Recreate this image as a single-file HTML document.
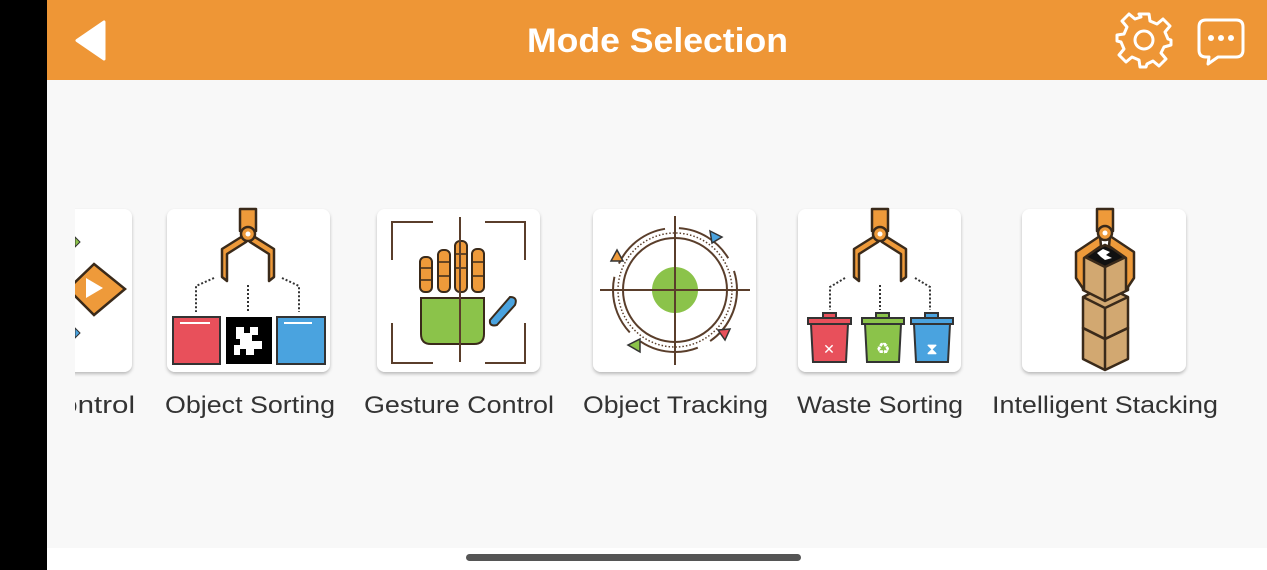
<!DOCTYPE html>
<html><head><meta charset="utf-8"><style>
html,body{margin:0;padding:0;width:1267px;height:570px;overflow:hidden;background:#f8f8f8;font-family:"Liberation Sans","DejaVu Sans",sans-serif}
</style></head><body>
<svg width="1267" height="570" viewBox="0 0 1267 570" xmlns="http://www.w3.org/2000/svg" style="position:absolute;left:0;top:0">
<defs>
<filter id="sh" x="-10%" y="-10%" width="120%" height="130%"><feDropShadow dx="0" dy="2" stdDeviation="1.5" flood-color="#000" flood-opacity="0.25"/></filter>
<clipPath id="cl"><rect x="75" y="0" width="1192" height="570"/></clipPath>
<g id="claw" stroke="#3a2a1a" stroke-width="2.5" stroke-linejoin="round" fill="#ee9a3a">
<rect x="-8" y="0" width="16" height="22"/>
<path d="M-2,25 L-26,40 L-26,68 L-21,72 L-21,45 L-2,33 Z"/>
<path d="M2,25 L26,40 L26,68 L21,72 L21,45 L2,33 Z"/>
<circle cx="0" cy="25" r="7"/><circle cx="0" cy="25" r="2.5" fill="#fff" stroke="none"/>
</g>
</defs>
<rect x="0" y="0" width="47" height="570" fill="#000"/>
<rect x="47" y="0" width="1220" height="80" fill="#ee9636"/>
<rect x="47" y="548" width="1220" height="22" fill="#fff"/>
<rect x="466" y="554" width="335" height="7" rx="3.5" fill="#555"/>
<path d="M104,22 L104,59 L77,40.5 Z" fill="#fff" stroke="#fff" stroke-width="3" stroke-linejoin="round"/>
<text x="527" y="52" textLength="261" lengthAdjust="spacingAndGlyphs" font-size="34" fill="#fff" font-weight="bold">Mode Selection</text>
<g transform="translate(1144,40)" fill="none" stroke="#fff" stroke-width="3" stroke-linejoin="round">
<path d="M-5,-26 L5,-26 L6,-19 L13,-16 L19,-21 L26,-14 L21,-8 L24,-1 L27,0 L27,5 L20,7 L17,13 L22,19 L15,26 L9,21 L3,24 L2,27 L-4,27 L-5,20 L-12,17 L-18,22 L-25,15 L-20,9 L-23,2 L-27,1 L-27,-5 L-20,-6 L-17,-13 L-22,-19 L-15,-26 L-9,-21 L-3,-23 Z"/>
<circle cx="0" cy="0" r="9"/>
</g>
<g fill="none" stroke="#fff" stroke-width="3" stroke-linejoin="round">
<path d="M1206,20 L1236,20 Q1243,20 1243,27 L1243,50 Q1243,57 1236,57 L1218,57 L1208,64 L1209,57 L1206,57 Q1199,57 1199,50 L1199,27 Q1199,20 1206,20 Z"/>
</g>
<circle cx="1211" cy="38" r="3" fill="#fff"/><circle cx="1221" cy="38" r="3" fill="#fff"/><circle cx="1231" cy="38" r="3" fill="#fff"/>

<g clip-path="url(#cl)">
<rect x="20" y="209" width="112" height="163" rx="8" fill="#fff" filter="url(#sh)"/>
<path d="M75,237 L80,242 L75,247 Z" fill="#8bc34a" stroke="#333"/>
<path d="M94,264 L125,289 L94,315 L68,289 Z" fill="#ee9a3a" stroke="#3a2a1a" stroke-width="2.5"/>
<path d="M86,278 L103,288 L86,298 Z" fill="#fff"/>
<path d="M75,328 L80,333 L75,338 Z" fill="#4aa3df" stroke="#333"/>
<text x="40" y="413" textLength="95" lengthAdjust="spacingAndGlyphs" font-size="24" fill="#333">Control</text>
</g>
<rect x="167" y="209" width="163" height="163" rx="8" fill="#fff" filter="url(#sh)"/>
<use href="#claw" x="248" y="209"/>
<g stroke="#333" stroke-width="2" stroke-dasharray="2,2" fill="none">
<path d="M214,278 L196,286 L196,312"/><path d="M248,285 L248,312"/><path d="M282,278 L299,286 L299,312"/>
</g>
<rect x="173" y="317" width="47" height="47" fill="#e8505b" stroke="#333" stroke-width="2"/>
<rect x="226" y="317" width="46" height="47" fill="#000"/>
<path d="M236,327h8v6h6v-6h8v8h-6v6h10v8h-8v6h-8v-6h-6v6h-6v-10h6v-6h-4z" fill="#fff"/>
<rect x="277" y="317" width="48" height="47" fill="#4aa3df" stroke="#333" stroke-width="2"/>
<line x1="180" y1="323" x2="210" y2="323" stroke="#fff" stroke-width="2"/>
<line x1="284" y1="323" x2="312" y2="323" stroke="#fff" stroke-width="2"/>
<rect x="377" y="209" width="163" height="163" rx="8" fill="#fff" filter="url(#sh)"/>
<g stroke="#5a3e2b" stroke-width="2" fill="none">
<path d="M392,260 V222 H433"/><path d="M485,222 H525 V260"/><path d="M392,323 V363 H433"/><path d="M485,363 H525 V323"/>
</g>
<g stroke="#3a2a1a" stroke-width="2" fill="#ee9a3a">
<rect x="420" y="257" width="12" height="35" rx="5"/><rect x="438" y="250" width="12" height="42" rx="5"/><rect x="455" y="241" width="12" height="51" rx="5"/><rect x="472" y="249" width="12" height="43" rx="5"/>
</g>
<g stroke="#3a2a1a" stroke-width="1.5"><path d="M420,268h12M420,280h12M438,262h12M438,276h12M455,254h12M455,268h12M472,262h12M472,276h12"/></g>
<path d="M421,298 H484 V334 Q484,344 474,344 H431 Q421,344 421,334 Z" fill="#8bc34a" stroke="#3a2a1a" stroke-width="2"/>
<path d="M490,320 L510,297 Q518,297 515,305 L497,325 Q489,327 490,320 Z" fill="#4aa3df" stroke="#3a2a1a" stroke-width="2"/>
<line x1="460" y1="217" x2="460" y2="362" stroke="#5a3e2b" stroke-width="2"/>
<rect x="593" y="209" width="163" height="163" rx="8" fill="#fff" filter="url(#sh)"/>
<circle cx="675" cy="290" r="23" fill="#8bc34a"/>
<circle cx="675" cy="290" r="52" fill="none" stroke="#5a3e2b" stroke-width="2"/>
<circle cx="675" cy="290" r="57" fill="none" stroke="#5a3e2b" stroke-width="1.5" stroke-dasharray="1.5,2"/>
<circle cx="675" cy="290" r="62" fill="none" stroke="#5a3e2b" stroke-width="2" stroke-dasharray="60,14"/>
<line x1="600" y1="290" x2="750" y2="290" stroke="#5a3e2b" stroke-width="2"/>
<line x1="675" y1="216" x2="675" y2="365" stroke="#5a3e2b" stroke-width="2"/>
<path d="M617,250 L611,261 L623,261 Z" fill="#ee9a3a" stroke="#333" stroke-width="1.5"/>
<path d="M710,231 L722,237 L712,243 Z" fill="#4aa3df" stroke="#333" stroke-width="1.5"/>
<path d="M718,330 L730,329 L725,340 Z" fill="#e8505b" stroke="#333" stroke-width="1.5"/>
<path d="M628,345 L640,339 L640,352 Z" fill="#8bc34a" stroke="#333" stroke-width="1.5"/>
<rect x="798" y="209" width="163" height="163" rx="8" fill="#fff" filter="url(#sh)"/>
<use href="#claw" x="880" y="209"/>
<g stroke="#333" stroke-width="2" stroke-dasharray="2,2" fill="none">
<path d="M845,278 L830,287 L830,310"/><path d="M880,285 L880,310"/><path d="M915,278 L930,287 L930,310"/>
</g>
<g stroke="#333" stroke-width="2">
<rect x="808" y="318" width="43" height="6" fill="#e8505b"/><rect x="823" y="313" width="13" height="5" fill="#e8505b"/><path d="M811,324 H848 L846,362 H813 Z" fill="#e8505b"/>
<rect x="862" y="318" width="42" height="6" fill="#8bc34a"/><rect x="876" y="313" width="13" height="5" fill="#8bc34a"/><path d="M865,324 H901 L899,362 H867 Z" fill="#8bc34a"/>
<rect x="911" y="318" width="42" height="6" fill="#4aa3df"/><rect x="925" y="313" width="13" height="5" fill="#4aa3df"/><path d="M914,324 H950 L948,362 H916 Z" fill="#4aa3df"/>
</g>
<text x="829" y="354" font-size="14" fill="#fff" text-anchor="middle">✕</text>
<text x="883" y="354" font-size="16" fill="#fff" text-anchor="middle">♻</text>
<text x="932" y="354" font-size="16" fill="#fff" text-anchor="middle">⧗</text>
<rect x="1022" y="209" width="164" height="163" rx="8" fill="#fff" filter="url(#sh)"/>
<g stroke="#3a2a1a" stroke-width="2.5" fill="#d2a871" stroke-linejoin="round">
<path d="M1083,328 L1105,317 L1128,328 L1128,359 L1105,370 L1083,359 Z"/>
<path d="M1083,297 L1105,286 L1128,297 L1128,328 L1105,339 L1083,328 Z"/>
<path d="M1083,297 L1105,308 L1128,297 M1105,308 V339 M1083,328 L1105,339 L1128,328 M1105,339 V370" fill="none"/>
<path d="M1083,256 L1105,245 L1128,256 L1128,290 L1105,301 L1083,290 Z"/>
<path d="M1083,256 L1105,267 L1128,256 L1105,245 Z" fill="#111"/>
<path d="M1105,267 V301" fill="none"/>
</g>
<path d="M1097,253 l6,-4 l7,3 l-4,3 l6,3 l-7,2 l-4,-3 z" fill="#fff"/>
<g stroke="#3a2a1a" stroke-width="2.5" fill="#ee9a3a" stroke-linejoin="round">
<rect x="1097" y="209" width="16" height="22"/>
<path d="M1100,236 L1076,252 L1076,278 L1084,290 L1084,258 L1101,246 Z"/>
<path d="M1110,236 L1134,252 L1134,278 L1126,290 L1126,258 L1109,246 Z"/>
<circle cx="1105" cy="233" r="7"/></g>
<circle cx="1105" cy="233" r="2.5" fill="#fff"/>
<g font-size="24" fill="#333" lengthAdjust="spacingAndGlyphs">
<text x="165" y="413" textLength="170" lengthAdjust="spacingAndGlyphs">Object Sorting</text>
<text x="364" y="413" textLength="190" lengthAdjust="spacingAndGlyphs">Gesture Control</text>
<text x="583" y="413" textLength="185" lengthAdjust="spacingAndGlyphs">Object Tracking</text>
<text x="797" y="413" textLength="166" lengthAdjust="spacingAndGlyphs">Waste Sorting</text>
<text x="992" y="413" textLength="226" lengthAdjust="spacingAndGlyphs">Intelligent Stacking</text>
</g>
</svg>
</body></html>
